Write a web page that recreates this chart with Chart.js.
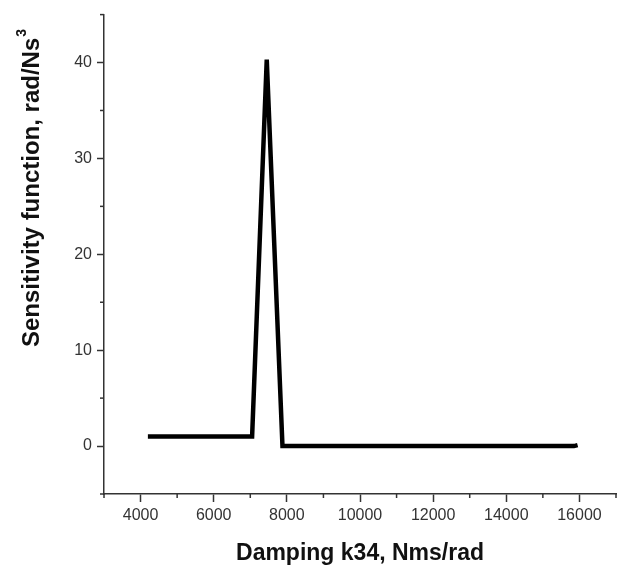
<!DOCTYPE html>
<html>
<head>
<meta charset="utf-8">
<script src="https://cdn.jsdelivr.net/npm/chart.js@4.4.0/dist/chart.umd.min.js"></script>
<style>
  html, body { margin: 0; padding: 0; background: #fff; }
</style>
</head>
<body>
<canvas id="chart" width="621" height="567"></canvas>
<script>
// Données
const dampingK34 = [4200, 7050, 7450, 7880, 15850, 15950];
const sensitivity = [1, 1, 40.3, 0, 0, 0.1];
const xTickLabels = [4000, 6000, 8000, 10000, 12000, 14000, 16000];
const yTickLabels = [0, 10, 20, 30, 40];

const axisColor = "#333";
const fontFamily = "'Liberation Sans', Arial, sans-serif";

// petits traits secondaires + titre vertical
const extrasPlugin = {
  id: "extras",
  afterDraw(chart) {
    const c = chart.ctx;
    const xs = chart.scales.x;
    const ys = chart.scales.y;
    c.save();
    c.strokeStyle = axisColor;
    c.lineWidth = 1.5;
    for (let v = 3000; v <= 17000; v += 1000) {
      if (xTickLabels.includes(v)) continue;
      const px = xs.getPixelForValue(v);
      c.beginPath();
      c.moveTo(px, ys.bottom);
      c.lineTo(px, ys.bottom + 4);
      c.stroke();
    }
    for (let v = -5; v <= 45; v += 5) {
      if (yTickLabels.includes(v)) continue;
      const py = ys.getPixelForValue(v);
      c.beginPath();
      c.moveTo(xs.left, py);
      c.lineTo(xs.left - 4, py);
      c.stroke();
    }
    // titre de l'axe Y avec exposant
    const main = "Sensitivity function, rad/Ns";
    const sup = "3";
    c.translate(32, 188);
    c.rotate(-Math.PI / 2);
    c.fillStyle = "#111";
    c.textBaseline = "middle";
    c.textAlign = "left";
    c.font = "bold 24px " + fontFamily;
    const wMain = c.measureText(main).width;
    c.font = "bold 14px " + fontFamily;
    const wSup = c.measureText(sup).width;
    const start = -(wMain + wSup + 1) / 2;
    c.font = "bold 24px " + fontFamily;
    c.fillText(main, start, 0);
    c.font = "bold 14px " + fontFamily;
    c.fillText(sup, start + wMain + 1, -10);
    c.restore();
  },
};

const ctx = document.getElementById("chart");

new Chart(ctx, {
  type: "scatter",
  data: {
    datasets: [
      {
        data: dampingK34.map((x, i) => ({ x: x, y: sensitivity[i] })),
        showLine: true,
        borderColor: "#000",
        borderWidth: 4.5,
        pointRadius: 0,
        tension: 0,
      },
    ],
  },
  options: {
    responsive: false,
    animation: false,
    devicePixelRatio: 1,
    layout: { padding: { left: 0, top: 13, right: 5, bottom: 0 } },
    plugins: {
      legend: { display: false },
      tooltip: { enabled: false },
    },
    scales: {
      x: {
        type: "linear",
        min: 3000,
        max: 17000,
        afterFit: (scale) => { scale.height = 73; },
        border: { display: true, color: axisColor, width: 1.5 },
        grid: {
          display: true,
          drawOnChartArea: false,
          drawTicks: true,
          tickLength: 8,
          tickWidth: 1.5,
          tickColor: (c) => (xTickLabels.includes(c.tick && c.tick.value) ? axisColor : "rgba(0,0,0,0)"),
        },
        ticks: {
          stepSize: 1000,
          color: "#333",
          padding: 4,
          maxRotation: 0,
          autoSkip: false,
          font: { family: fontFamily, size: 16 },
          callback: (v) => (xTickLabels.includes(v) ? String(v) : ""),
        },
        title: {
          display: true,
          text: "Damping k34, Nms/rad",
          color: "#111",
          padding: { top: 0, bottom: 0 },
          font: { family: fontFamily, size: 23, weight: "bold" },
        },
      },
      y: {
        min: -5,
        max: 45,
        afterFit: (scale) => { scale.width = 104; },
        border: { display: true, color: axisColor, width: 1.5 },
        grid: {
          display: true,
          drawOnChartArea: false,
          drawTicks: true,
          tickLength: 7,
          tickWidth: 1.5,
          tickColor: (c) => (yTickLabels.includes(c.tick && c.tick.value) ? axisColor : "rgba(0,0,0,0)"),
        },
        ticks: {
          stepSize: 5,
          color: "#333",
          padding: 5,
          autoSkip: false,
          font: { family: fontFamily, size: 16 },
          callback: (v) => (yTickLabels.includes(v) ? String(v) : ""),
        },
      },
    },
  },
  plugins: [extrasPlugin],
});
</script>
</body>
</html>
